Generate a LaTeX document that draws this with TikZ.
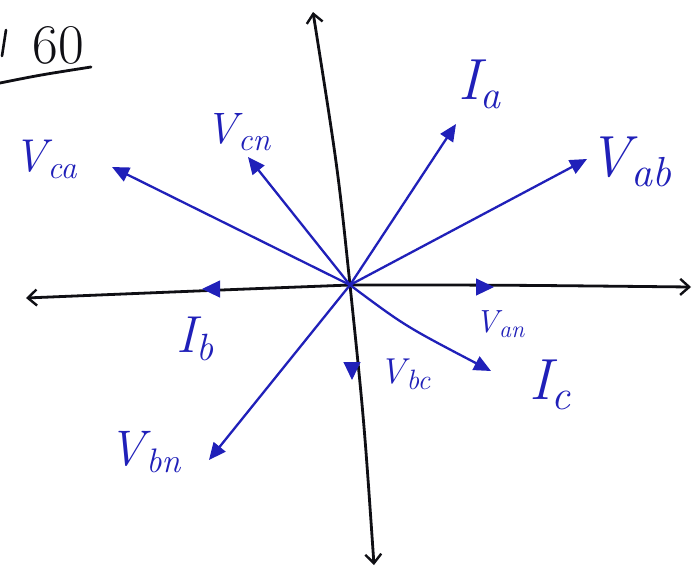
\documentclass[tikz,border=0pt]{standalone}
\usetikzlibrary{arrows.meta,calc}
\definecolor{pen}{RGB}{32,32,185}
\definecolor{ink}{RGB}{15,15,20}
\newcommand\phl[4]{{\fontsize{#1}{#1}\selectfont\textit{#3}\kern-0.1em}{\fontsize{#2}{#2}\selectfont\raisebox{-0.22em}{\textit{#4}}}}
\begin{document}
\begin{tikzpicture}[x=1pt,y=-1pt,
  axisline/.style={ink,line width=2.8pt,line cap=round,-{Straight Barb[length=9pt,width=16pt,line width=2.4pt]}},
  phasor/.style={pen,line width=2.3pt,line cap=round,-{Triangle[length=17pt,width=15pt]}},
  tiphead/.style={pen,line width=1pt,-{Triangle[length=18pt,width=17pt]}},
  lbl/.style={pen,inner sep=0pt}]
\useasboundingbox (0,0) rectangle (700,584);
\fill[white] (0,0) rectangle (700,584);
% key points
\coordinate (O) at (350,285);
\coordinate (top) at (313,12);
\coordinate (bot) at (374,565);
\coordinate (left) at (26,298);
\coordinate (right) at (691,287);
\coordinate (Vca) at (112,167);
\coordinate (Vcn) at (248,157);
\coordinate (Ia) at (456,124);
\coordinate (Vab) at (587,159);
\coordinate (Ic) at (491,371);
\coordinate (Vbn) at (209,460);
\coordinate (Van) at (494,287);
\coordinate (Ib) at (202,289);
\coordinate (Vbc) at (352,380);
% axes
\draw[axisline] (O) .. controls (338,170) .. (top);
\draw[axisline] (O) .. controls (364,420) .. (bot);
\draw[axisline] (O) .. controls (220,290) .. (left);
\draw[axisline] (O) .. controls (500,285) .. (right);
% phasors
\draw[phasor] (O) -- (Vca);
\draw[phasor] (O) -- (Vcn);
\draw[phasor] (O) -- (Ia);
\draw[phasor] (O) -- (Vab);
\draw[phasor] (O) .. controls (405,326) .. (Ic);
\draw[phasor] (O) -- (Vbn);
\draw[tiphead] ($(Van)+(-3,0)$) -- (Van);
\draw[tiphead] ($(Ib)+(3,0)$) -- (Ib);
\draw[tiphead] ($(Vbc)+(0,-3)$) -- (Vbc);
% labels
\node[lbl] (lVca) at (45,159) {\phl{46}{32}{V}{ca}};
\node[lbl] (lVcn) at (238,132) {\phl{44}{32}{V}{cn}};
\node[lbl] (lIa) at (480,84) {\phl{58}{40}{I}{a}};
\node[lbl] (lVab) at (630,162) {\phl{58}{42}{V}{ab}};
\node[lbl] (lVan) at (500,324) {\phl{32}{24}{V}{an}};
\node[lbl] (lIb) at (195,339) {\phl{52}{38}{I}{b}};
\node[lbl] (lVbc) at (405,374) {\phl{36}{28}{V}{bc}};
\node[lbl] (lIc) at (550,385) {\phl{58}{42}{I}{c}};
\node[lbl] (lVbn) at (145,452) {\phl{50}{34}{V}{bn}};
% corner note
\node[ink,inner sep=0pt,font=\fontsize{56}{58}\selectfont] (note) at (58,45) {60};
\draw[ink,line width=2.6pt,line cap=round] (6,30) -- (2,56);
\draw[ink,line width=2.8pt,line cap=round] (0,83) .. controls (40,75) .. (91,67);
\end{tikzpicture}
\end{document}
